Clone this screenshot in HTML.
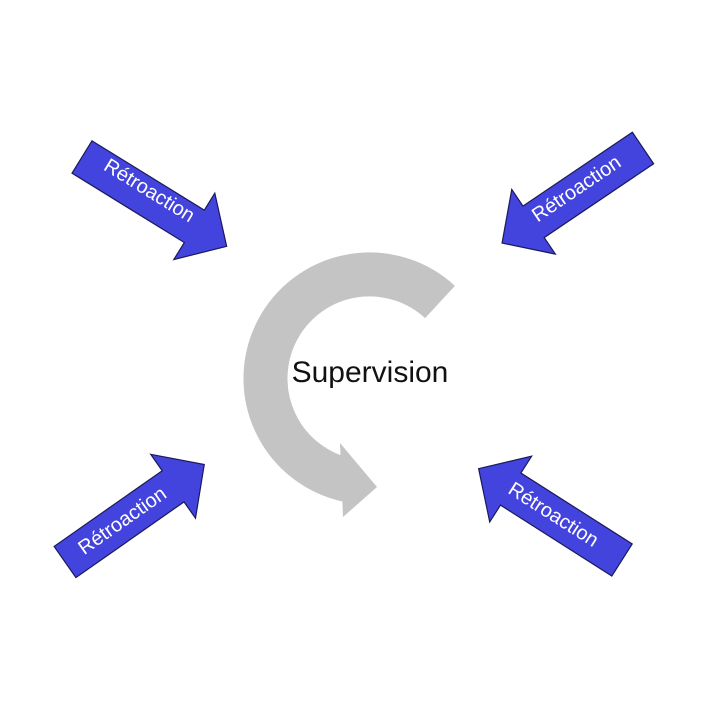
<!DOCTYPE html>
<html><head><meta charset="utf-8"><style>
html,body{margin:0;padding:0;background:#fff}
svg{display:block}
text{font-family:"Liberation Sans",sans-serif}
</style></head><body>
<svg width="720" height="719" viewBox="0 0 720 719">
<defs>
<polygon id="ar" points="0,-19 132,-19 132,-39 170,0 132,39 132,19 0,19" fill="#4343dd" stroke="#1a1a5a" stroke-width="1.2"/>
</defs>
<!-- circular arrow -->
<path d="M440,302 A104,104 0 1 0 347,480" fill="none" stroke="#c4c4c4" stroke-width="44"/>
<polygon points="340,443 377,487 343,517" fill="#c4c4c4"/>
<text x="370" y="382" font-size="30" text-anchor="middle" fill="#111">Supervision</text>

<use href="#ar" transform="translate(82,157) rotate(31.7)"/>
<text transform="translate(146,196) rotate(31.7)" font-size="20" fill="#fff" text-anchor="middle">Rétroaction</text>

<use href="#ar" transform="translate(643,148) rotate(146)"/>
<text transform="translate(580,194) rotate(-34)" font-size="20" fill="#fff" text-anchor="middle">Rétroaction</text>

<use href="#ar" transform="translate(65,562) rotate(-35)"/>
<text transform="translate(126,526) rotate(-35)" font-size="20" fill="#fff" text-anchor="middle">Rétroaction</text>

<use href="#ar" transform="translate(622,560) rotate(212.5)"/>
<text transform="translate(550,520) rotate(32.5)" font-size="20" fill="#fff" text-anchor="middle">Rétroaction</text>
</svg>
</body></html>
